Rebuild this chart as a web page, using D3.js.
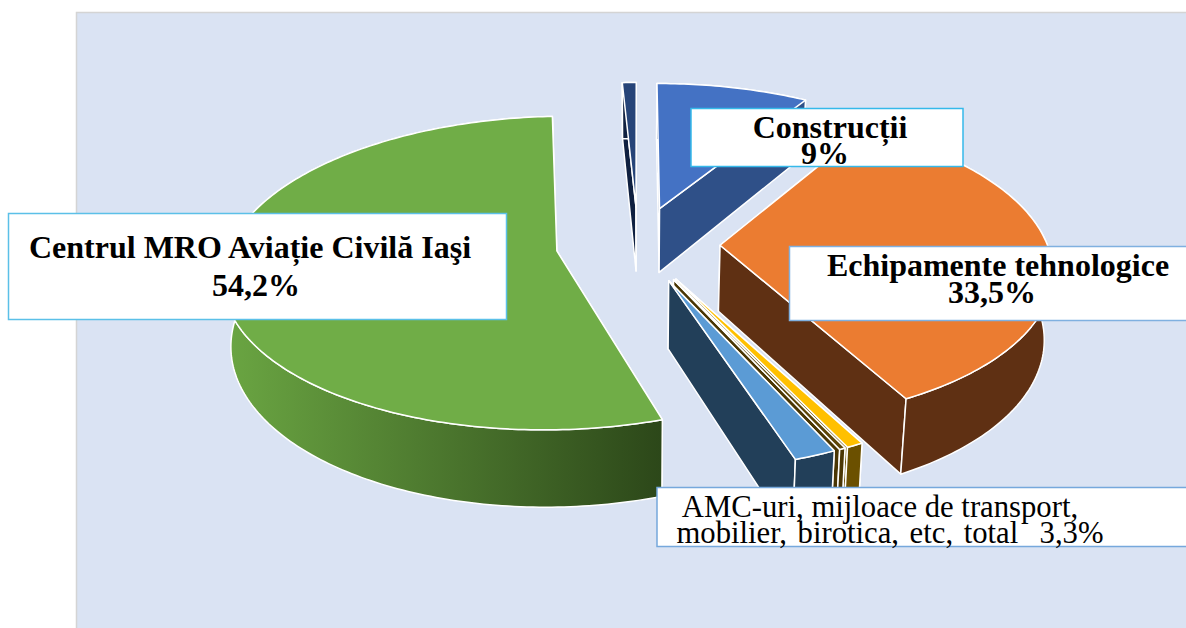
<!DOCTYPE html>
<html>
<head>
<meta charset="utf-8">
<script src="https://cdn.jsdelivr.net/npm/d3@7"></script>
<style>
  html, body { margin: 0; padding: 0; background: #fff; }
  svg { display: block; }
  text { font-family: "Liberation Serif", serif; fill: #000; text-anchor: middle; }
</style>
</head>
<body>
<div id="my_dataviz"></div>
<script>
// slices, clockwise from the thin one at the top
var categories = ["AMC sliver", "Construcții", "Echipamente tehnologice", "AMC gold", "AMC brown", "AMC blue", "Centrul MRO Aviație Civilă Iași"];
var values = [0.8, 8.75, 33.5, 0.7, 0.25, 1.75, 54.2];

var topColors = ["#264478", "#4472c4", "#eb7c31", "#ffc000", "#5e4608", "#5b9bd5", "#70ad47"];
var sideColors = ["#0f2040", "#2f5088", "#5f3013", "#6b5000", "#4a3604", "#223f59", "url(#greenSide)"];

var labelLines = [
    ["Centrul MRO Aviație Civilă Iaşi", "54,2%"],
    ["Construcții", "9%"],
    ["Echipamente tehnologice", "33,5%"],
    ["AMC-uri, mijloace de transport,", "mobilier, birotica, etc, total  3,3%"]
];

var width = 1186,
    height = 628,
    cx = 638,        // pie centre on the screen
    cy = 244,
    radius = 327,
    explode = 82,
    tilt = 0.464,    // squash of the disc
    persp = 0.14,    // far side smaller, near side bigger
    depth = 66,
    narrow = 0.02;   // bottom plane is a bit narrower than the top

var svg = d3.select("#my_dataviz").append("svg")
    .attr("width", width)
    .attr("height", height);

var defs = svg.append("defs");
var grad = defs.append("linearGradient")
    .attr("id", "greenSide")
    .attr("gradientUnits", "userSpaceOnUse")
    .attr("x1", 228).attr("x2", 663).attr("y1", 0).attr("y2", 0);
grad.append("stop").attr("offset", "0%").attr("stop-color", "#6aa542");
grad.append("stop").attr("offset", "100%").attr("stop-color", "#2c4719");

// background panel
svg.append("rect")
    .attr("x", 76.5).attr("y", 12.5)
    .attr("width", width).attr("height", height)
    .attr("fill", "#dae3f3")
    .attr("stroke", "#d4d4d4")
    .attr("stroke-width", 1.5);

var color = d3.scaleOrdinal().domain(categories).range(topColors);
var side = d3.scaleOrdinal().domain(categories).range(sideColors);

var startAngle = -values[0] / d3.sum(values) * 2 * Math.PI;
var pie = d3.pie().sort(null).startAngle(startAngle).endAngle(startAngle + 2 * Math.PI);
var arcs = pie(values);

// disc point -> screen, h is the distance under the top surface
function project(p, h) {
    var s = 1 / (1 + persp * (-p[1]) / radius);
    return [cx + p[0] * s * (1 - narrow * h / depth), cy + p[1] * tilt * s + h * s];
}

var line = d3.line();

function drawSlice(g, d, name) {
    var mid = (d.startAngle + d.endAngle) / 2;
    var apex = d3.pointRadial(mid, explode);
    var steps = Math.max(2, Math.ceil((d.endAngle - d.startAngle) * 60));
    var rim = d3.range(steps + 1).map(function(i) {
        var a = d.startAngle + (d.endAngle - d.startAngle) * i / steps;
        var r = d3.pointRadial(a, radius);
        return [apex[0] + r[0], apex[1] + r[1]];
    });
    var first = rim[0], last = rim[rim.length - 1];

    var faces = [
        [apex, first].map(function(p) { return project(p, 0); })
            .concat([first, apex].map(function(p) { return project(p, depth); })),
        [apex, last].map(function(p) { return project(p, 0); })
            .concat([last, apex].map(function(p) { return project(p, depth); })),
        rim.map(function(p) { return project(p, 0); })
            .concat(rim.slice().reverse().map(function(p) { return project(p, depth); }))
    ];
    faces.forEach(function(f) {
        g.append("path")
            .attr("d", line(f) + "Z")
            .attr("fill", side(name))
            .attr("stroke", "#fff")
            .attr("stroke-width", 1.5)
            .attr("stroke-linejoin", "round");
    });

    g.append("path")
        .attr("d", line([apex].concat(rim).map(function(p) { return project(p, 0); })) + "Z")
        .attr("fill", color(name))
        .attr("stroke", "#fff")
        .attr("stroke-width", 1.5)
        .attr("stroke-linejoin", "round");
}

var slices = svg.append("g");
arcs.forEach(function(d, i) {
    drawSlice(slices.append("g"), d, categories[i]);
});

// label boxes
var boxes = [
    {x: 8.5, y: 213.5, w: 498, h: 106, stroke: "#5bc0e8", cx: [250, 256], base: [258, 296], size: 32, weight: "bold", spacing: [0, 0]},
    {x: 691, y: 108.5, w: 272, h: 58, stroke: "#35b9ea", cx: [830, 825], base: [138, 164], size: 32, weight: "bold", spacing: [0, 0]},
    {x: 789.5, y: 246.5, w: 420, h: 74, stroke: "#7fb0e0", cx: [998, 992], base: [276, 303], size: 32, weight: "bold", spacing: [0, 0]},
    {x: 657, y: 487.5, w: 560, h: 59, stroke: "#76a8dc", cx: [880, 890], base: [517, 543], size: 30.7, weight: "normal", spacing: [0, 3]}
];

var labels = svg.append("g");
boxes.forEach(function(b, i) {
    labels.append("rect")
        .attr("x", b.x).attr("y", b.y)
        .attr("width", b.w).attr("height", b.h)
        .attr("fill", "#fff")
        .attr("stroke", b.stroke)
        .attr("stroke-width", 1.5);
    labelLines[i].forEach(function(t, j) {
        labels.append("text")
            .attr("x", b.cx[j])
            .attr("y", b.base[j])
            .attr("font-size", b.size)
            .attr("font-weight", b.weight)
            .attr("word-spacing", b.spacing[j])
            .style("white-space", "pre")
            .text(t);
    });
});
</script>
</body>
</html>
